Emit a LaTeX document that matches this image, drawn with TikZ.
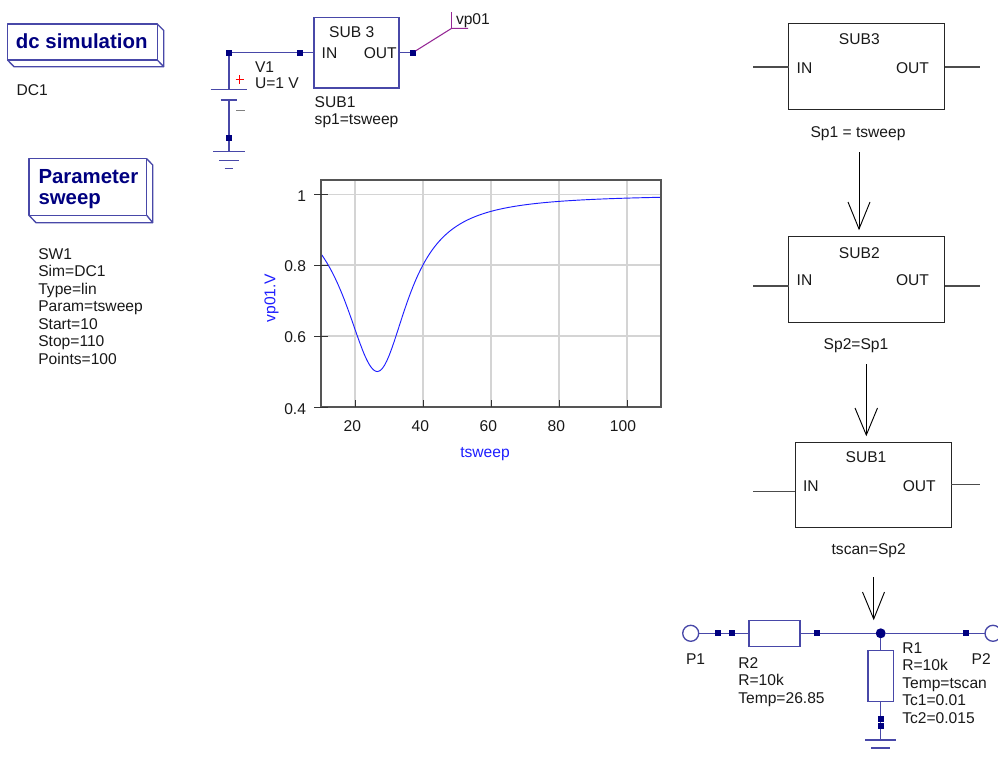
\documentclass[tikz,border=0pt]{standalone}
\usepackage{fontspec}
\setmainfont{Liberation Sans}
\definecolor{wirec}{RGB}{72,72,168}
\definecolor{navyc}{RGB}{0,0,128}
\definecolor{gridc}{RGB}{212,212,212}
\definecolor{framec}{RGB}{85,85,85}
\definecolor{probec}{RGB}{150,40,150}
\definecolor{curvec}{RGB}{30,30,255}
\definecolor{plusc}{RGB}{255,0,0}
\newcommand{\txtsize}{\fontsize{11.7pt}{13.1pt}\selectfont}
\tikzset{
  x=0.75pt,y=-0.75pt,
  wire/.style={draw=wirec,line width=1pt},
  blkwire/.style={draw=black!70,line width=0.8pt},
  jct/.style={fill=navyc,draw=none,minimum size=4.5pt,inner sep=0pt,outer sep=0pt},
  dot/.style={circle,fill=navyc,draw=none,minimum size=7.5pt,inner sep=0pt,outer sep=0pt},
  port/.style={circle,draw=wirec,line width=1pt,fill=white,minimum size=12pt,inner sep=0pt,outer sep=0pt},
  wbox/.style={rectangle,draw=wirec,line width=1pt,inner sep=0pt,outer sep=0pt},
  sbox/.style={rectangle,draw=black!85,line width=0.85pt,inner sep=0pt,outer sep=0pt},
  lab/.style={inner sep=0pt,outer sep=0pt,anchor=west,text height=8pt,text depth=0pt,font=\txtsize,text=black!90},
  labr/.style={lab,anchor=east},
  labc/.style={lab,anchor=center},
  multi/.style={inner sep=0pt,outer sep=0pt,anchor=north west,align=left,font=\txtsize,text=black!90},
  title/.style={inner sep=0pt,outer sep=0pt,anchor=north west,align=left,font=\fontsize{15.3pt}{15.8pt}\selectfont\bfseries,text=navyc},
  simbox/.style={draw=wirec,line width=1pt,line join=round},
  arrowln/.style={draw=black,line width=0.7pt},
  ticklab/.style={lab,anchor=center},
}
\newcommand{\arrowdown}[4]{%
  \draw[arrowln] (#1) -- (#2);
  \draw[arrowln] (#3) -- (#2) -- (#4);
}
\begin{document}
\begin{tikzpicture}
\useasboundingbox[fill=white] (0,0) rectangle (998,756);

% ---- simulation blocks
\draw[simbox] (7.5,24) rectangle (157.3,60);
\draw[simbox] (157.3,24) -- (163.7,30.5) -- (163.7,66.7) -- (14,66.7) -- (7.5,60);
\draw[simbox] (157.3,60) -- (163.7,66.7);
\node[title,anchor=west,text height=10pt,text depth=0pt] (dctitle) at (16,41.5) {dc simulation};
\node[lab] (dcname) at (16.5,90) {DC1};

\draw[simbox] (29,158.7) rectangle (146.7,215.3);
\draw[simbox] (146.7,158.7) -- (152.7,165) -- (152.7,222.7) -- (36,222.7) -- (29,215.3);
\draw[simbox] (146.7,215.3) -- (152.7,222.7);
\node[title] (swtitle) at (38.5,169.5) {Parameter\\sweep};
\node[multi] (swprops) at (38.3,248.5) {SW1\\Sim=DC1\\Type=lin\\Param=tsweep\\Start=10\\Stop=110\\Points=100};

% ---- top-left circuit
\node[wbox,minimum width=63.75pt,minimum height=53pt] (sub) at (356.5,52.7) {};
\node[jct] (j1) at (229,52.7) {};
\node[jct] (j2) at (300,52.7) {};
\node[jct] (j3) at (412.7,52.7) {};
\node[jct] (j4) at (229,137.7) {};
\coordinate (platea) at (229,89.3);
\coordinate (plateb) at (229,100);
\coordinate (gnda) at (229,151.7);
\coordinate (pb) at (451.7,28.3);
\coordinate (pt) at (451.7,12);
\coordinate (pr) at (468,28.3);
\draw[wire] (j1) -- (j2) -- (sub.west |- j2);
\draw[wire] (j1) -- (platea);
\draw[wire] (plateb) -- (j4) -- (gnda);
\draw[wire] (sub.east |- j3) -- (j3);
\draw[wire] (210.7,89.3) -- (247.3,89.3);
\draw[wire] (220.5,100) -- (237,100);
\draw[wire] (213,151.7) -- (244.7,151.7);
\draw[wire] (219,160.5) -- (239,160.5);
\draw[wire] (224.7,168.7) -- (233,168.7);
\draw[draw=plusc,line width=1pt] (235.5,79.7) -- (244,79.7) (239.8,75.5) -- (239.8,84);
\draw[black!50,line width=0.8pt] (236,110.7) -- (244.5,110.7);
\draw[draw=probec,line width=0.8pt] (j3) -- (pb) -- (pr);
\draw[draw=probec,line width=0.8pt] (pb) -- (pt);
\node[lab] (vp) at (456,19) {vp01};
\node[labc] (subt) at (351.7,32) {SUB 3};
\node[lab] (subin) at (321.7,52.7) {IN};
\node[labr] (subout) at (396.7,52.7) {OUT};
\node[lab] (subn) at (314.7,102) {SUB1};
\node[lab] (subp) at (314.7,119) {sp1=tsweep};
\node[lab] (vn) at (255,66.7) {V1};
\node[lab] (vu) at (255,82.7) {U=1 V};

% ---- plot
\foreach \xx in {355,423,491,559,627} \draw[gridc,line width=0.8pt] (\xx,180) -- (\xx,407);
\foreach \yy in {194.3,265,336} \draw[gridc,line width=0.8pt] (321,\yy) -- (661,\yy);
\draw[curvec,line width=0.7pt,line join=round] plot[domain=10:26.6,samples=40] ({321+3.4*(\x-10)},{407-354.5*(0.6-0.5/(1+((\x-26.6)/11.8)^2))})
  -- plot[domain=26.6:110,samples=120] ({321+3.4*(\x-10)},{407-354.5*(0.6-0.5/(1+((\x-26.6)/10.9)^2))});
\draw[framec,line width=0.85pt] (321,180) rectangle (661,407);
\foreach \xx in {355,423,491,559,627} \draw[black!80,line width=0.7pt] (\xx,400) -- (\xx,407);
\foreach \yy in {194.3,265,336,407} \draw[black!80,line width=0.7pt] (314,\yy) -- (328,\yy);
\node[ticklab,anchor=east] (y1) at (306,196) {1};
\node[ticklab,anchor=east] (y2) at (306,266.5) {0.8};
\node[ticklab,anchor=east] (y3) at (306,337.5) {0.6};
\node[ticklab,anchor=east] (y4) at (306,408.8) {0.4};
\node[ticklab] (x1) at (352.4,426.5) {20};
\node[ticklab] (x2) at (420.4,426.5) {40};
\node[ticklab] (x3) at (488.4,426.5) {60};
\node[ticklab] (x4) at (556.4,426.5) {80};
\node[ticklab] (x5) at (623,426.5) {100};
\node[ticklab,text=curvec] (xl) at (485,451.7) {tsweep};
\node[ticklab,text=curvec,rotate=90] (yl) at (270,298) {vp01.V};

% ---- right column
\node[sbox,minimum width=117pt,minimum height=64pt] (b3) at (866.5,66.5) {};
\node[sbox,minimum width=117pt,minimum height=64pt] (b2) at (866.5,279.5) {};
\node[sbox,minimum width=117pt,minimum height=64pt] (b1) at (873.2,485) {};
\coordinate (b3l) at (753,67); \coordinate (b3r) at (980,67);
\coordinate (b2l) at (753,286); \coordinate (b2r) at (980,286);
\coordinate (b1l) at (753,491.7); \coordinate (b1r) at (980,484.5);
\draw[blkwire] (b3l) -- (b3.west |- b3l);
\draw[blkwire] (b3.east |- b3r) -- (b3r);
\draw[blkwire] (b2l) -- (b2.west |- b2l);
\draw[blkwire] (b2.east |- b2r) -- (b2r);
\draw[blkwire] (b1l) -- (b1.west |- b1l);
\draw[blkwire] (b1.east |- b1r) -- (b1r);
\node[labc] (t3) at (859.3,39) {SUB3};
\node[lab] (i3) at (796.7,68) {IN};
\node[labr] (o3) at (929,68) {OUT};
\node[labc] (p3) at (858,132) {Sp1 = tsweep};
\node[labc] (t2) at (859.3,252.7) {SUB2};
\node[lab] (i2) at (796.7,280) {IN};
\node[labr] (o2) at (929,280) {OUT};
\node[labc] (p2) at (856,344) {Sp2=Sp1};
\node[labc] (t1) at (866,457) {SUB1};
\node[lab] (i1) at (803,486) {IN};
\node[labr] (o1) at (935.7,486) {OUT};
\node[labc] (p1) at (868.7,549) {tscan=Sp2};
\coordinate (a1s) at (859,152); \coordinate (a1t) at (859,229);
\coordinate (a1l) at (848,202); \coordinate (a1r) at (870,202);
\arrowdown{a1s}{a1t}{a1l}{a1r}
\coordinate (a2s) at (866.3,364); \coordinate (a2t) at (866.3,435);
\coordinate (a2l) at (855,408); \coordinate (a2r) at (877.5,408);
\arrowdown{a2s}{a2t}{a2l}{a2r}
\coordinate (a3s) at (873.7,577); \coordinate (a3t) at (873.7,619);
\coordinate (a3l) at (862.5,592); \coordinate (a3r) at (884.5,592);
\arrowdown{a3s}{a3t}{a3l}{a3r}

% ---- bottom circuit
\node[port] (P1) at (690.7,633.3) {};
\node[port] (P2) at (993,633.3) {};
\node[wbox,minimum width=38.25pt,minimum height=19.3pt] (R2) at (774.5,633.5) {};
\node[wbox,minimum width=19pt,minimum height=38.25pt] (R1) at (880.7,676.2) {};
\node[dot] (J) at (880.7,633.3) {};
\node[jct] (q1) at (718,633.3) {};
\node[jct] (q2) at (731.7,633.3) {};
\node[jct] (q3) at (816.7,633.3) {};
\node[jct] (q4) at (965.7,633.3) {};
\node[jct] (q5) at (880.7,719) {};
\node[jct] (q6) at (880.7,725.7) {};
\coordinate (g1) at (880.7,740);
\draw[wire] (P1) -- (q1) -- (q2) -- (R2.west |- q2);
\draw[wire] (R2.east |- q3) -- (q3) -- (J) -- (q4) -- (P2);
\draw[wire] (J) -- (R1.north -| J);
\draw[wire] (R1.south -| J) -- (q5) -- (q6) -- (g1);
\draw[wire] (865,740) -- (896,740);
\draw[wire] (871,748) -- (890,748);
\node[lab] (lp1) at (686,659) {P1};
\node[lab] (lp2) at (971.7,659) {P2};
\node[multi] (lr2) at (738.3,657.5) {R2\\R=10k\\Temp=26.85};
\node[multi] (lr1) at (902.3,642.5) {R1\\R=10k\\Temp=tscan\\Tc1=0.01\\Tc2=0.015};
\end{tikzpicture}
\end{document}
